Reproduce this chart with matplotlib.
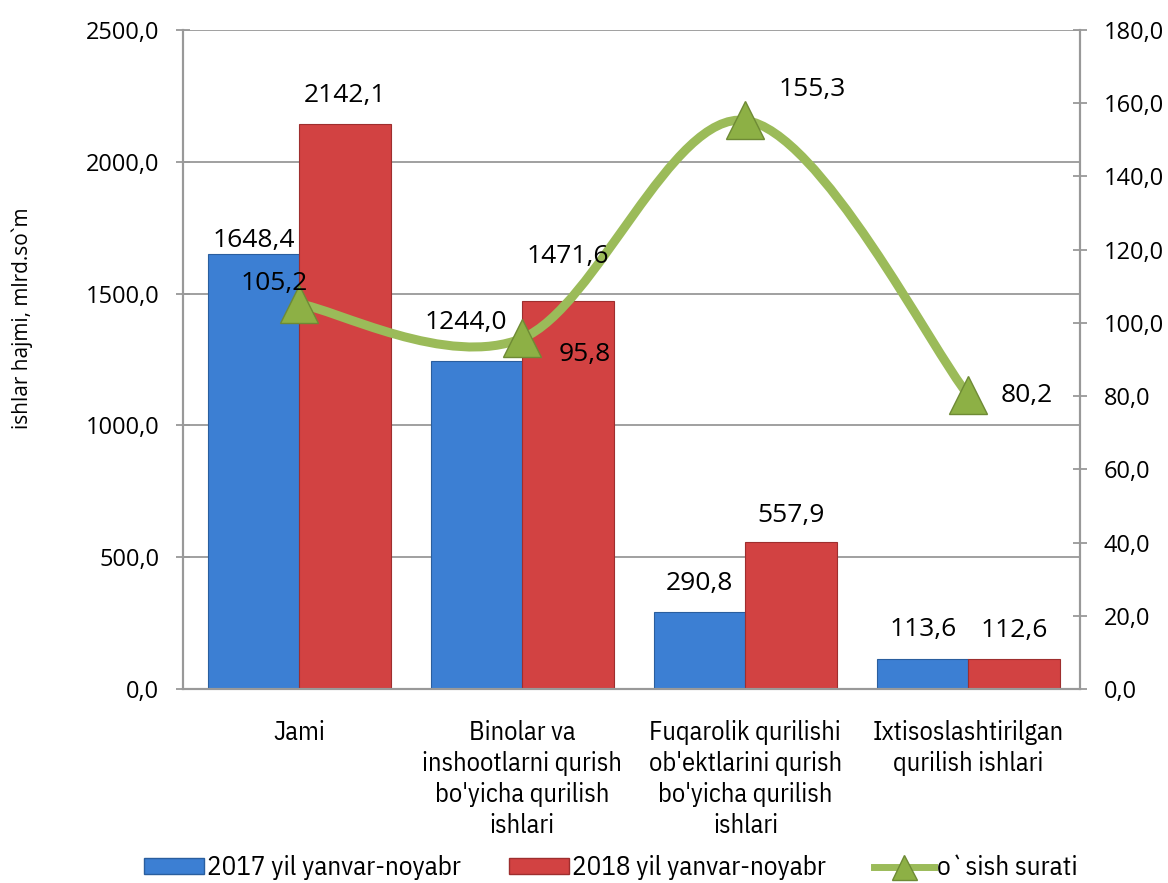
import matplotlib
matplotlib.use("Agg")
import matplotlib.pyplot as plt
from matplotlib.path import Path
from matplotlib.patches import PathPatch, Patch
from matplotlib.lines import Line2D
import numpy as np

categories = ["Jami",
              "Binolar va\ninshootlarni qurish\nbo'yicha qurilish\nishlari",
              "Fuqarolik qurilishi\nob'ektlarini qurish\nbo'yicha qurilish\nishlari",
              "Ixtisoslashtirilgan\nqurilish ishlari"]
vals_2017 = [1648.4, 1244.0, 290.8, 113.6]
vals_2018 = [2142.1, 1471.6, 557.9, 112.6]
growth = [105.2, 95.8, 155.3, 80.2]
left_ticks = [0, 500, 1000, 1500, 2000, 2500]
right_ticks = [0, 20, 40, 60, 80, 100, 120, 140, 160, 180]
series_names = ["2017 yil yanvar-noyabr", "2018 yil yanvar-noyabr", "o`sish surati"]
ylabel = "ishlar hajmi, mlrd.so`m"

def fmt(v):
    return f"{v:.1f}".replace(".", ",")

FONT = "Open Sans"
NARROW = ["IBM Plex Sans Condensed", "Open Sans", "DejaVu Sans"]
plt.rcParams["font.family"] = [FONT, "DejaVu Sans"]

BLUE = "#3C7FD3"
BLUE_E = "#2A5E9E"
RED = "#D24242"
RED_E = "#9E2E2E"
GREEN = "#9BBB59"
GRID = "#999999"

fig = plt.figure(figsize=(11.68, 8.83), dpi=100)
ax = fig.add_axes([0.1567, 0.2197, 0.9247 - 0.1567, 0.966 - 0.2197])
ax2 = ax.twinx()

x = np.arange(len(categories))
w = 0.41
ax.bar(x - w / 2, vals_2017, w, color=BLUE, edgecolor=BLUE_E, linewidth=0.8, zorder=2)
ax.bar(x + w / 2, vals_2018, w, color=RED, edgecolor=RED_E, linewidth=0.8, zorder=2)

ax.set_xlim(-0.52, len(categories) - 0.5)
ax.set_ylim(0, 2500)
ax.set_yticks(left_ticks)
ax.set_yticklabels([fmt(t) for t in left_ticks], fontsize=17)
ax.yaxis.grid(True, color=GRID, linewidth=1.3, zorder=0)
ax.set_axisbelow(True)
ax.set_xticks(x)
ax.set_xticklabels(categories, fontsize=19, family=NARROW, linespacing=1.3)
ax.tick_params(axis="x", length=0, pad=22)
ax.tick_params(axis="y", direction="inout", length=10, color=GRID, width=1.3, pad=12)
ax.set_ylabel(ylabel, fontsize=15)
ax.yaxis.set_label_coords(-0.167, 0.563)

for a in (ax, ax2):
    a.spines["top"].set_visible(False)
    for sp in ["left", "right", "bottom"]:
        a.spines[sp].set_color(GRID)
        a.spines[sp].set_linewidth(1.5)

ax2.set_ylim(0, 180)
ax2.set_yticks(right_ticks)
ax2.set_yticklabels([fmt(t) for t in right_ticks], fontsize=17)
ax2.tick_params(axis="y", direction="inout", length=10, color=GRID, width=1.3, pad=12)

# smooth line (Catmull-Rom drawn as cubic Bezier path)
pts = np.column_stack([x, growth]).astype(float)
verts = [tuple(pts[0])]
codes = [Path.MOVETO]
n = len(pts)
for i in range(n - 1):
    p0 = pts[i - 1] if i > 0 else pts[i]
    p1 = pts[i]
    p2 = pts[i + 1]
    p3 = pts[i + 2] if i + 2 < n else pts[i + 1]
    c1 = p1 + (p2 - p0) / 6.0
    c2 = p2 - (p3 - p1) / 6.0
    verts += [tuple(c1), tuple(c2), tuple(p2)]
    codes += [Path.CURVE4] * 3
ax2.add_patch(PathPatch(Path(verts, codes), facecolor="none", edgecolor=GREEN,
                        linewidth=6.5, capstyle="round", zorder=3))
ax2.plot(x, growth, linestyle="none", marker="^", markersize=28,
         markerfacecolor="#8DB045", markeredgecolor="#6E8A35", markeredgewidth=1, zorder=4)

# bar labels (drawn on top axes so they sit above the line)
offs17 = [(0, 10), (-8, 28), (0, 21), (0, 21)]
offs18 = [(0, 21), (0, 32), (0, 19), (0, 21)]
for i, v in enumerate(vals_2017):
    ax2.annotate(fmt(v), (x[i] - w / 2, v), xycoords=ax.transData, xytext=offs17[i],
                 textcoords="offset points", ha="center", va="center", fontsize=19, zorder=6)
for i, v in enumerate(vals_2018):
    ax2.annotate(fmt(v), (x[i] + w / 2, v), xycoords=ax.transData, xytext=offs18[i],
                 textcoords="offset points", ha="center", va="center", fontsize=19, zorder=6)

goffs = [(-18, 15), (45, -12), (48, 22), (42, 0)]
for i, v in enumerate(growth):
    ax2.annotate(fmt(v), (x[i], v), xytext=goffs[i], textcoords="offset points",
                 ha="center", va="center", fontsize=19, zorder=6)

handles = [Patch(facecolor=BLUE, edgecolor=BLUE_E),
           Patch(facecolor=RED, edgecolor=RED_E),
           Line2D([0], [0], color=GREEN, linewidth=5, marker="^", markersize=18,
                  markerfacecolor="#8DB045", markeredgecolor="#6E8A35")]
fig.legend(handles, series_names, loc="center", bbox_to_anchor=(0.523, 0.017),
           ncol=3, frameon=False, prop={"family": NARROW, "size": 19.5},
           handlelength=2.2, handleheight=0.55, handletextpad=0.1, columnspacing=1.8)

fig.savefig("out.png", dpi=100)
